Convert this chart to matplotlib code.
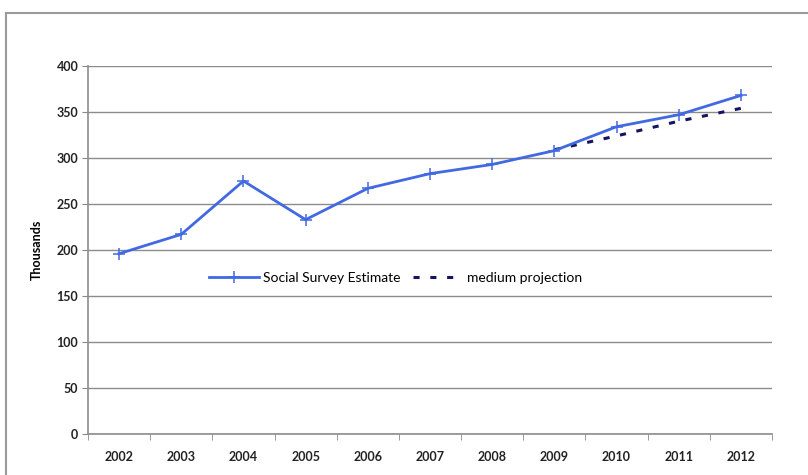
import numpy as np
import matplotlib.pyplot as plt
from matplotlib.lines import Line2D

years = ['2002', '2003', '2004', '2005', '2006', '2007', '2008', '2009', '2010', '2011', '2012']
survey = [196, 217, 275, 233, 267, 283, 293, 308, 334, 347, 368]
proj_years = ['2009', '2010', '2011', '2012']
projection = [309, 324, 340, 354]

plt.rcParams['font.family'] = ['Lato', 'DejaVu Sans']

fig = plt.figure(figsize=(8.08, 4.75), dpi=100)
W, H = 808, 475
ax = fig.add_axes([88 / W, 1 - 434 / H, (772 - 88) / W, (434 - 66) / H])

x = np.arange(len(years))
px = np.array([years.index(y) for y in proj_years])

ax.plot(x, survey, color='#4169e1', linewidth=2, marker='+', markersize=9,
        markeredgewidth=1.1, label='Social Survey Estimate', zorder=3)
ax.plot(px, projection, color='#141460', linewidth=2.2, linestyle=(0, (2, 3.5)),
        label='medium projection', zorder=2)

ax.set_xlim(-0.5, len(years) - 0.5)
ax.set_ylim(0, 400)
ax.set_yticks(np.arange(0, 401, 50))
ax.set_xticks(x)
ax.set_xticklabels(years)
ax.set_xticks(np.arange(-0.5, len(years), 1), minor=True)
ax.tick_params(axis='x', which='major', length=0, pad=12, labelsize=9)
ax.tick_params(axis='x', which='minor', length=4, color='#888888', direction='out')
ax.tick_params(axis='y', length=4, color='#888888', labelsize=9, pad=3)
for lab in ax.get_xticklabels() + ax.get_yticklabels():
    lab.set_fontweight('bold')
    lab.set_color('#222222')

ax.grid(axis='y', color='#8c8c8c', linewidth=1)
ax.set_axisbelow(True)
for s in ['top', 'right']:
    ax.spines[s].set_visible(False)
for s in ['left', 'bottom']:
    ax.spines[s].set_color('#8c8c8c')
    ax.spines[s].set_linewidth(1.2)

ax.set_ylabel('Thousands', fontsize=9, fontweight='bold', labelpad=10)

leg = ax.legend(loc='center', bbox_to_anchor=(0.45, 0.425), ncol=2, frameon=False,
                fontsize=10, handlelength=3.6, columnspacing=0.9, handletextpad=0.3)

# outer chart frame
fig.add_artist(Line2D([6 / W, 1], [1 - 13 / H, 1 - 13 / H], color='#9a9a9a', linewidth=1.5))
fig.add_artist(Line2D([6 / W, 6 / W], [0, 1 - 13 / H], color='#9a9a9a', linewidth=1.5))

fig.savefig('out.png', dpi=100)
